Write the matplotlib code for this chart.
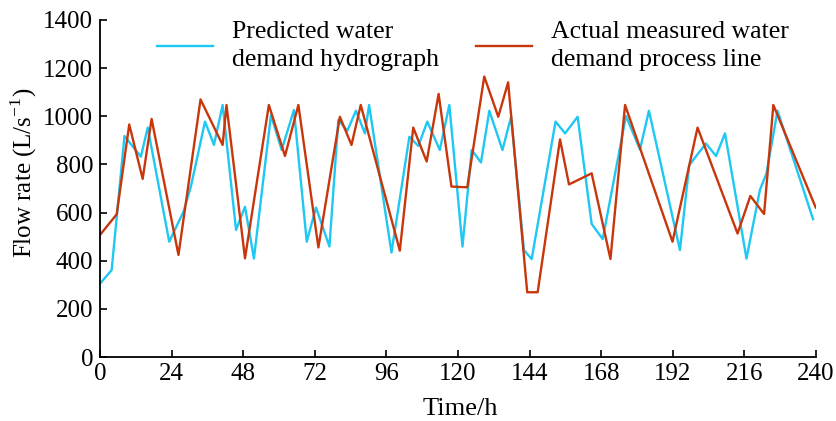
import matplotlib
matplotlib.use("Agg")
import matplotlib.pyplot as plt

plt.rcParams['font.family'] = ['Liberation Serif', 'DejaVu Serif']
plt.rcParams['mathtext.fontset'] = 'custom'
plt.rcParams['mathtext.rm'] = 'Liberation Serif'

# Predicted water demand hydrograph
pred_hours = [0, 3.9, 8.2, 13.7, 16, 23.2, 28, 30.5, 35.2, 38.2, 41.1, 45.6, 48.6, 51.6,
              57.3, 60.9, 65, 69.3, 72.4, 76.9, 79.9, 82.9, 85.8, 88.8, 90.2, 97.7,
              103.7, 106.7, 109.7, 113.9, 117.1, 121.5, 124.6, 127.7, 130.5, 134.9,
              137.8, 142.1, 144.7, 152.7, 155.9, 160.1, 164.8, 168.5, 176.3, 181, 184,
              194.4, 197.5, 203.1, 206.5, 209.5, 216.7, 221.2, 223.4, 227.1, 239]
pred_vals = [305, 361, 918, 832, 953, 479, 604, 710, 978, 881, 1047, 528, 624, 409,
             1005, 860, 1026, 479, 621, 459, 985, 940, 1023, 929, 1047, 434,
             915, 877, 978, 860, 1047, 459, 860, 808, 1023, 860,
             998, 444, 407, 978, 929, 998, 553, 490, 1001, 862, 1023,
             444, 797, 887, 835, 929, 409, 694, 763, 1023, 573]

# Actual measured water demand process line
act_hours = [0, 5.6, 9.8, 14.3, 17.3, 26.3, 33.7, 41.1, 42.4, 48.6, 56.6, 62, 66.5,
             73.2, 80.4, 84.3, 87.4, 100.5, 105, 109.5, 113.5, 117.8, 123.1, 128.8,
             133.5, 136.8, 143.2, 146.7, 154.2, 157.2, 164.8, 171.1, 176, 191.9,
             200.3, 213.7, 218, 222.6, 225.7, 239.9]
act_vals = [507, 593, 966, 740, 989, 424, 1070, 881, 1047, 410, 1047, 835, 1047,
            455, 998, 881, 1047, 442, 953, 812, 1093, 708, 705, 1165,
            998, 1141, 269, 269, 904, 717, 763, 407, 1047, 479,
            953, 513, 669, 594, 1047, 621]

x_ticks = [0, 24, 48, 72, 96, 120, 144, 168, 192, 216, 240]
y_ticks = [0, 200, 400, 600, 800, 1000, 1200, 1400]

W, H = 837, 421
fig = plt.figure(figsize=(W / 100, H / 100), dpi=100)
ax = fig.add_axes([100 / W, 1 - 357 / H, 716 / W, 337 / H])

ax.plot(pred_hours, pred_vals, color='#1EC8F2', lw=1.7,
        label='Predicted water\ndemand hydrograph')
ax.plot(act_hours, act_vals, color='#C8360C', lw=1.7,
        label='Actual measured water\ndemand process line')

ax.set_xlim(0, 240)
ax.set_ylim(0, 1400)
ax.set_xticks(x_ticks)
ax.set_yticks(y_ticks)
ax.spines['top'].set_visible(False)
ax.spines['right'].set_visible(False)
for s in ['left', 'bottom']:
    ax.spines[s].set_linewidth(1.3)
ax.tick_params(direction='in', length=5, width=1.2, labelsize=18)
ax.tick_params(axis='x', pad=4)
ax.tick_params(axis='y', pad=5)

fig.text(460 / W, 1 - 415 / H, 'Time/h', fontsize=19, ha='center', va='baseline')
fig.text(32 / W, 1 - 258 / H, 'Flow rate (L/s$^{\\mathregular{-1}}$)', fontsize=18,
         rotation=90, rotation_mode='anchor', ha='left', va='baseline')

leg = fig.legend(loc='center left', bbox_to_anchor=(157 / W, 1 - 46 / H), ncol=2,
                 frameon=False, fontsize=18.5, handlelength=2.18, handletextpad=0.74,
                 columnspacing=1.45, borderpad=0, borderaxespad=0)
for t in leg.get_texts():
    t.set_linespacing(1.35)

fig.savefig('out.png', dpi=100)
